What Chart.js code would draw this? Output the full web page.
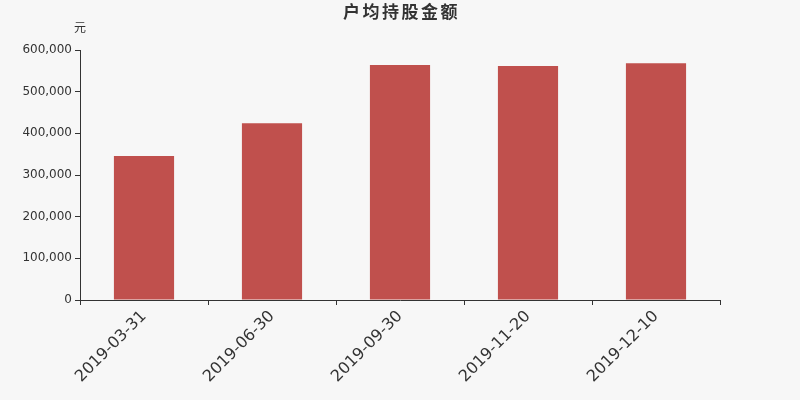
<!DOCTYPE html>
<html>
<head>
<meta charset="utf-8">
<script src="https://cdn.jsdelivr.net/npm/chart.js@4"></script>
<style>
  html, body { margin: 0; padding: 0; background: #f7f7f7; }
  #wrap { width: 800px; height: 400px; }
</style>
</head>
<body>
<div id="wrap"><canvas id="holdChart"></canvas></div>
<script>
// Data
const dates = ['2019-03-31', '2019-06-30', '2019-09-30', '2019-11-20', '2019-12-10'];
const avgHolding = [345500, 424500, 564000, 561500, 568500];
const yTicks = [0, 100000, 200000, 300000, 400000, 500000, 600000];
const chartTitle = '户均持股金额';
const unitText = '元';

const FONT = '"DejaVu Sans", "Noto Sans CJK SC", sans-serif';
const INK = '#333333';

// title (spaced out) and the unit label above the y axis
const headerText = {
    id: 'headerText',
    afterDraw(chart) {
        const ctx = chart.ctx;
        const y = chart.scales.y;
        const area = chart.chartArea;
        ctx.save();
        ctx.fillStyle = INK;
        ctx.textBaseline = 'middle';
        ctx.textAlign = 'center';

        ctx.font = 'bold 17px ' + FONT;
        ctx.letterSpacing = '2.5px';
        ctx.fillText(chartTitle, (area.left + area.right) / 2 + 1.5, 13.5);

        ctx.letterSpacing = '0px';
        ctx.font = '12px ' + FONT;
        ctx.fillText(unitText, y.right, y.top - 21);
        ctx.restore();
    }
};

const ctx = document.getElementById('holdChart').getContext('2d');

new Chart(ctx, {
    type: 'bar',
    data: {
        labels: dates,
        datasets: [{
            data: avgHolding,
            backgroundColor: '#c0504d',
            borderWidth: 0,
            categoryPercentage: 1,
            barPercentage: 0.47
        }]
    },
    options: {
        responsive: true,
        maintainAspectRatio: false,
        animation: false,
        layout: {
            padding: { left: 0, right: 80, top: 50, bottom: 0 }
        },
        plugins: {
            legend: { display: false },
            tooltip: { enabled: false },
            title: { display: false }
        },
        scales: {
            x: {
                grid: {
                    offset: true,
                    drawOnChartArea: false,
                    drawTicks: true,
                    tickLength: 5,
                    color: INK
                },
                border: { color: INK, width: 1 },
                ticks: {
                    color: INK,
                    font: { family: FONT, size: 16 },
                    minRotation: 45,
                    maxRotation: 45,
                    padding: 2
                },
                afterFit(scale) { scale.height = 100; }
            },
            y: {
                min: 0,
                max: 600000,
                grid: {
                    drawOnChartArea: false,
                    drawTicks: true,
                    tickLength: 5,
                    color: INK
                },
                border: { color: INK, width: 1 },
                afterBuildTicks(scale) {
                    scale.ticks = yTicks.map(v => ({ value: v }));
                },
                ticks: {
                    color: INK,
                    font: { family: FONT, size: 12 },
                    padding: 3,
                    callback: v => v.toLocaleString('en-US')
                },
                afterFit(scale) { scale.width = 80; }
            }
        }
    },
    plugins: [headerText]
});
</script>
</body>
</html>
